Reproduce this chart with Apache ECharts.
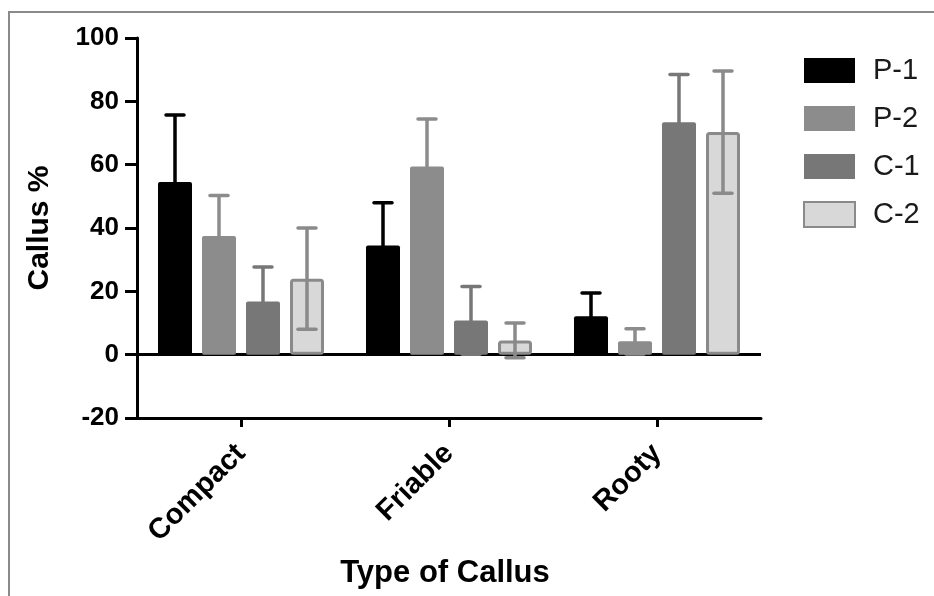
<!DOCTYPE html>
<html>
<head>
<meta charset="utf-8">
<script src="https://cdn.jsdelivr.net/npm/echarts@6/dist/echarts.min.js"></script>
<style>
html,body{margin:0;padding:0;background:#fff;}
#c{width:934px;height:596px;}
</style>
</head>
<body>
<div id="c"></div>
<script>
const categories = ['Compact', 'Friable', 'Rooty'];
const seriesNames = ['P-1', 'P-2', 'C-1', 'C-2'];
const p1 = [54.5, 34.5, 12.1];
const p2 = [37.5, 59.4, 4.2];
const c1 = [16.8, 10.8, 73.4];
const c2 = [24.0, 4.5, 70.3];
const p1Err = [21.2, 13.5, 7.4];
const p2Err = [12.8, 15.0, 4.0];
const c1Err = [10.9, 10.7, 15.1];
const c2Err = [16.0, 5.5, 19.3];
const yTicks = [-20, 0, 20, 40, 60, 80, 100];

const FONT = "'Liberation Sans', Arial, Helvetica, sans-serif";
const values = [p1, p2, c1, c2];
const errors = [p1Err, p2Err, c1Err, c2Err];
const fills = ['#000000', '#8c8c8c', '#777777', '#d8d8d8'];
const strokes = ['#000000', '#8c8c8c', '#777777', '#8a8a8a'];
const BAR_W = 34, BAR_GAP = 10;

const chart = echarts.init(document.getElementById('c'), null, {renderer: 'canvas'});

const barSeries = seriesNames.map((n, i) => ({
  name: n,
  type: 'bar',
  data: values[i],
  barWidth: BAR_W,
  barGap: (BAR_GAP / BAR_W * 100) + '%',
  itemStyle: {
    color: fills[i],
    borderColor: strokes[i],
    borderWidth: i === 3 ? 3 : 0,
    borderRadius: 2
  },
  z: 2,
  silent: true
}));

const errSeries = seriesNames.map((n, i) => ({
  type: 'custom',
  z: 5,
  silent: true,
  data: values[i].map((v, k) => [k, v, errors[i][k]]),
  renderItem: function (params, api) {
    const k = api.value(0), v = api.value(1), e = api.value(2);
    const off = (i - 1.5) * (BAR_W + BAR_GAP);
    const top = api.coord([k, v + e]);
    const bot = api.coord([k, v - e]);
    const x = top[0] + off;
    const half = 9;
    const st = {stroke: strokes[i], lineWidth: 3.5};
    return {
      type: 'group',
      children: [
        {type: 'line', shape: {x1: x, y1: top[1], x2: x, y2: bot[1]}, style: st},
        {type: 'line', shape: {x1: x - half, y1: top[1], x2: x + half, y2: top[1]}, style: Object.assign({lineCap: 'round'}, st)},
        {type: 'line', shape: {x1: x - half, y1: bot[1], x2: x + half, y2: bot[1]}, style: Object.assign({lineCap: 'round'}, st)}
      ]
    };
  }
}));

// zero line
barSeries[0].markLine = {
  silent: true,
  symbol: 'none',
  label: {show: false},
  lineStyle: {color: '#000', width: 3, type: 'solid'},
  data: [{yAxis: 0}],
  z: 1
};

const option = {
  backgroundColor: '#fff',
  animation: false,
  textStyle: {fontFamily: FONT},
  grid: {left: 137, right: 173, top: 38, bottom: 178, containLabel: false},
  legend: {
    data: seriesNames,
    orient: 'vertical',
    left: 798,
    top: 51,
    itemWidth: 51,
    itemHeight: 25,
    itemGap: 19,
    icon: 'rect',
    textStyle: {fontSize: 29, color: '#1a1a1a', fontFamily: FONT, padding: [0, 0, 0, 13]},
    selectedMode: false
  },
  xAxis: {
    type: 'category',
    data: categories,
    name: 'Type of Callus',
    nameLocation: 'middle',
    nameGap: 140,
    nameTextStyle: {fontSize: 31, fontWeight: 'bold', color: '#000', fontFamily: FONT, verticalAlign: 'top', padding: [0, 8, 0, 0]},
    axisLine: {onZero: false, lineStyle: {color: '#000', width: 3}},
    axisTick: {show: true, alignWithLabel: true, length: 9, lineStyle: {color: '#000', width: 3}},
    axisLabel: {rotate: 45, fontSize: 29, fontWeight: 'bold', color: '#000', margin: 31, fontFamily: FONT},
    splitLine: {show: false}
  },
  yAxis: {
    type: 'value',
    min: -20,
    max: 100,
    interval: 20,
    name: 'Callus %',
    nameLocation: 'middle',
    nameRotate: 90,
    nameGap: 82,
    nameTextStyle: {fontSize: 30, fontWeight: 'bold', color: '#000', fontFamily: FONT},
    axisLine: {show: true, lineStyle: {color: '#000', width: 3}},
    axisTick: {show: true, length: 12, lineStyle: {color: '#000', width: 3}},
    axisLabel: {fontSize: 26, fontWeight: 'bold', color: '#000', margin: 18, fontFamily: FONT,
      formatter: v => yTicks.indexOf(v) >= 0 ? String(v) : ''},
    splitLine: {show: false}
  },
  graphic: [{
    type: 'rect',
    silent: true,
    shape: {x: 9, y: 12, width: 1000, height: 700},
    style: {fill: 'none', stroke: '#8a8a8a', lineWidth: 2},
    z: -10
  }],
  series: barSeries.concat(errSeries)
};
chart.setOption(option);
</script>
</body>
</html>
